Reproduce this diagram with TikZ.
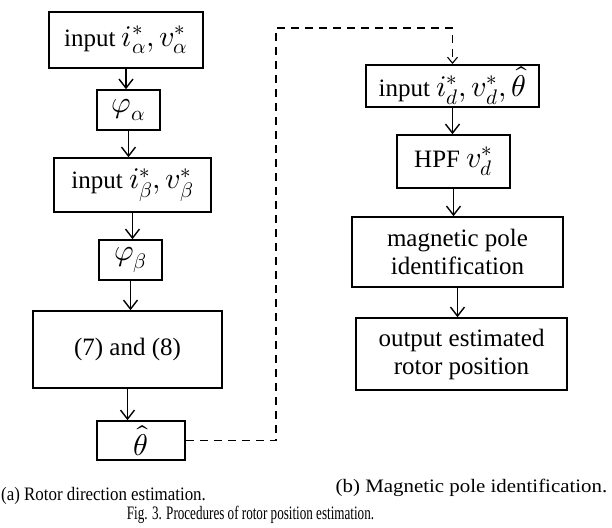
\documentclass[tikz,border=0pt]{standalone}
\usepackage{amsmath}
\usepackage{graphicx}
\usepackage{fontspec}
\usepackage{unicode-math}
\setmainfont{Liberation Serif}
\setmathfont{latinmodern-math.otf}[Scale=1.2]
\usepackage{tikz}
\usetikzlibrary{arrows.meta}

\begin{document}
\begin{tikzpicture}[x=1pt, y=-1pt, >={Straight Barb[length=9pt,width=14pt]},
  blk/.style={draw, line width=1.6pt, inner sep=2pt, align=center,
    font=\fontsize{25}{28}\selectfont},
  flow/.style={->, line width=1.4pt},
  link/.style={-{Straight Barb[length=6pt,width=10pt]}, line width=1.1pt,
    dash pattern=on 8pt off 6pt},
  captxt/.style={inner sep=0pt, font=\fontsize{19}{22}\selectfont}]
  \useasboundingbox (0,0) rectangle (612,527);

  % (a) rotor direction estimation
  \node[blk, minimum width=154pt, minimum height=56pt] (ia) at (126,40)
    {input $i^{*}_{\alpha}, v^{*}_{\alpha}$};
  \node[blk, minimum width=63pt, minimum height=40pt] (pa) at (128.5,110)
    {$\varphi_{\alpha}$};
  \node[blk, minimum width=157pt, minimum height=54pt] (ib) at (132.5,185)
    {input $i^{*}_{\beta}, v^{*}_{\beta}$};
  \node[blk, minimum width=63pt, minimum height=40pt] (pb) at (130.5,260)
    {$\varphi_{\beta}$};
  \node[blk, minimum width=189pt, minimum height=77pt] (eq) at (127.5,349.5)
    {(7) and (8)};
  \node[blk, minimum width=88pt, minimum height=39pt] (th) at (141,440.5)
    {$\hat{\theta}$};

  \draw[flow] (ia.south) -- (ia.south |- pa.north);
  \draw[flow] (pa.south) -- (pa.south |- ib.north);
  \draw[flow] (ib.south) -- (ib.south |- pb.north);
  \draw[flow] (pb.south) -- (pb.south |- eq.north);
  \draw[flow] (eq.south) -- (eq.south |- th.north);

  % (b) magnetic pole identification
  \node[blk, minimum width=173pt, minimum height=40pt] (id) at (452.5,86)
    {input $i^{*}_{d}, v^{*}_{d}, \hat{\theta}$};
  \node[blk, minimum width=113pt, minimum height=53pt] (hpf) at (453.5,161.5)
    {HPF $v^{*}_{d}$};
  \node[blk, minimum width=211pt, minimum height=70pt] (mag) at (457.5,252)
    {magnetic pole\\identification};
  \node[blk, minimum width=211pt, minimum height=72pt] (out) at (461.5,354)
    {output estimated\\rotor position};

  \draw[flow] (id.south) -- (id.south |- hpf.north);
  \draw[flow] (hpf.south) -- (hpf.south |- mag.north);
  \draw[flow] (mag.south) -- (mag.south |- out.north);

  % dashed link from theta to (b)
  \coordinate (turn) at (276,28);
  \draw[link] (th.east) -| (turn) -| (id.north);

  % captions
  \node[captxt] (capa) at (103.5,496) {\scalebox{0.89}[1]{(a) Rotor direction estimation.}};
  \node[captxt] (capb) at (471.5,488) {\scalebox{1.1}[1]{(b) Magnetic pole identification.}};
  \node[captxt] (capfig) at (250.5,515) {\scalebox{0.69}[1]{Fig. 3. Procedures of rotor position estimation.}};
\end{tikzpicture}
\end{document}
